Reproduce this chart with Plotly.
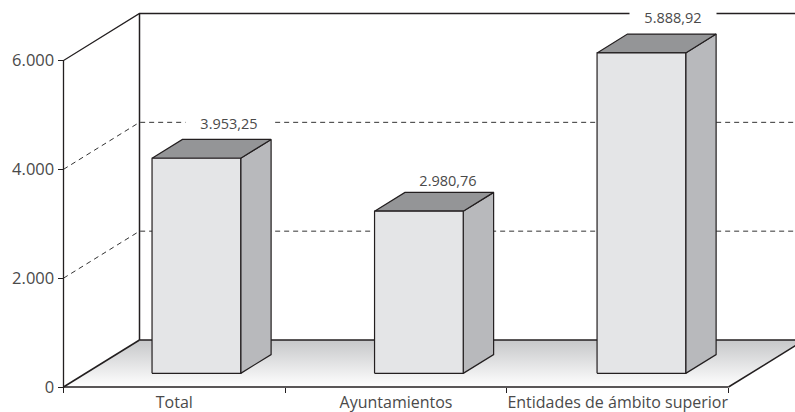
import numpy as np
import plotly.graph_objects as go

categories = ["Total", "Ayuntamientos", "Entidades de ámbito superior"]
values = [3953.25, 2980.76, 5888.92]
value_labels = ["3.953,25", "2.980,76", "5.888,92"]
y_ticks = [0, 2000, 4000, 6000]
y_tick_labels = ["0", "2.000", "4.000", "6.000"]
label_dx = [33, 29, 32]
label_dy = [35, 31, 36]

W, H = 795, 412
L, R, T, B = 63.5, 728.5, 60.5, 387.0
FONT = "Open Sans"
TXT = "#4a4a4a"
INK = "#231f20"
BAR_PITCH = 1.0038

n = len(categories)
y_max = max(y_ticks)
px_x = n / (R - L)
px_y = y_max / (B - T)
DX, DY = 76 * px_x, 47 * px_y   # one full floor depth, in data units


def proj(pos, val, depth=0.0):
    return pos + depth * DX, val + depth * DY


def poly(points, fill=None, line=INK, width=1.2, dash=None, close=True, gradient=None):
    xs = [p[0] for p in points]
    ys = [p[1] for p in points]
    if close:
        xs.append(xs[0])
        ys.append(ys[0])
    kw = dict(x=xs, y=ys, mode="lines", showlegend=False, hoverinfo="skip")
    if line is None:
        kw["line"] = dict(width=0)
    else:
        kw["line"] = dict(color=line, width=width, dash=dash)
    if gradient is not None:
        kw["fill"] = "toself"
        kw["fillgradient"] = gradient
    elif fill is not None:
        kw["fill"] = "toself"
        kw["fillcolor"] = fill
    return go.Scatter(**kw)


fig = go.Figure()

# floor
floor = [proj(0, 0), proj(n, 0), proj(n, 0, 1), proj(0, 0, 1)]
fig.add_trace(poly(floor, line=None, gradient=dict(
    type="vertical",
    colorscale=[[0, "#ffffff"], [1, "#c6c7c9"]],
    start=0, stop=proj(0, 0, 1)[1])))
fig.add_trace(poly([proj(0, 0, 1), proj(n, 0, 1)], width=1.5, close=False))
fig.add_trace(poly([proj(n, 0), proj(n, 0, 1)], width=1.5, close=False))
fig.add_trace(poly([proj(0, 0), proj(0, 0, 1)], width=1.5, close=False))
fig.add_trace(poly([proj(0, 0), proj(n, 0)], width=1.5, close=False))

# walls
fig.add_trace(poly([proj(0, 0), proj(0, y_max), proj(0, y_max, 1), proj(n, y_max, 1)], width=1.3, close=False))
fig.add_trace(poly([proj(0, 0, 1), proj(0, y_max, 1)], width=1.5, close=False))

# gridlines
for t in y_ticks[1:-1]:
    fig.add_trace(poly([proj(0, t), proj(0, t, 1), proj(n, t, 1)],
                       line="#333333", width=1, dash="5px,4px", close=False))

# bars
half, d1, d2 = 0.2, 0.29, 0.69
for i, v in enumerate(values):
    c = 0.5 + i * BAR_PITCH
    a, b = c - half, c + half
    fig.add_trace(poly([proj(b, 0, d1), proj(b, 0, d2), proj(b, v, d2), proj(b, v, d1)], fill="#b8b9bc"))
    fig.add_trace(poly([proj(a, v, d1), proj(b, v, d1), proj(b, v, d2), proj(a, v, d2)], fill="#949597"))
    fig.add_trace(poly([proj(a, 0, d1), proj(b, 0, d1), proj(b, v, d1), proj(a, v, d1)], fill="#e4e5e7"))

# labels
for i, (v, s) in enumerate(zip(values, value_labels)):
    x, y = proj(0.5 + i * BAR_PITCH, v, d1)
    fig.add_annotation(x=x, y=y, text=s, showarrow=False, xref="x", yref="y",
                       xshift=label_dx[i], yshift=label_dy[i], width=84, height=18, bgcolor="white",
                       font=dict(family=FONT, size=14.5, color=TXT))

fig.update_xaxes(
    domain=[0, 1], range=[-L * px_x, (W - L) * px_x],
    anchor="free", position=(H - B) / H, automargin=False,
    tickvals=np.arange(n) + 0.5, ticktext=categories, ticks="",
    showgrid=False, zeroline=False, showline=False, ticklabelstandoff=4,
    tickfont=dict(family=FONT, size=16, color=TXT),
    minor=dict(tickvals=list(range(n + 1)), ticks="outside", ticklen=5, tickcolor=INK, tickwidth=1, showgrid=False),
)
fig.update_yaxes(
    domain=[0, 1], range=[-(H - B) * px_y, B * px_y],
    anchor="free", position=L / W, automargin=False,
    tickvals=y_ticks, ticktext=y_tick_labels, ticks="outside",
    ticklen=6, tickcolor=INK, tickwidth=1, showgrid=False, zeroline=False, showline=False,
    tickfont=dict(family=FONT, size=16.5, color=TXT),
)
fig.update_layout(
    width=W, height=H, autosize=False, showlegend=False,
    margin=dict(l=0, r=0, t=0, b=0, pad=0),
    plot_bgcolor="white", paper_bgcolor="white",
)
fig.write_html("out.html", config=dict(displayModeBar=False),
               post_script="document.body.style.margin='0';document.documentElement.style.overflow='hidden';")
